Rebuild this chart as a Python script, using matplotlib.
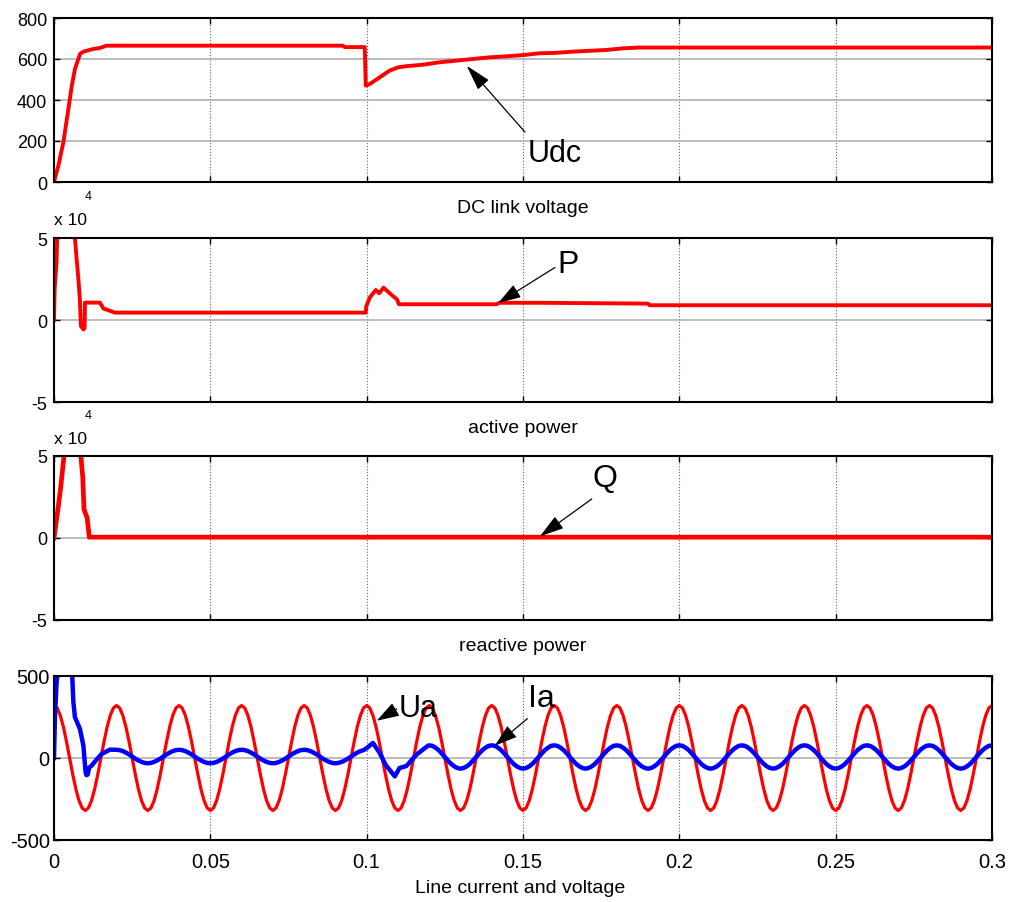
import numpy as np
import matplotlib
matplotlib.use('Agg')
import matplotlib.pyplot as plt

plt.rcParams['font.family'] = ['Liberation Sans', 'DejaVu Sans']
plt.rcParams['axes.unicode_minus'] = False

# DC link voltage (V)
udc_t = [0, 0.0014, 0.003, 0.0046, 0.0057, 0.0067, 0.0083, 0.0094, 0.0126, 0.0147,
         0.0168, 0.0924, 0.093, 0.0994, 0.0997, 0.101, 0.1042, 0.1073, 0.11, 0.1127,
         0.118, 0.1233, 0.1287, 0.134, 0.1393, 0.1446, 0.15, 0.1553, 0.1606, 0.166,
         0.1713, 0.1766, 0.182, 0.1872, 0.2, 0.25, 0.3]
udc_v = [0, 80, 194, 356, 470, 551, 624, 636, 649, 654,
         665, 665, 658, 658, 470, 478, 511, 543, 559, 565,
         572, 584, 592, 600, 608, 613, 619, 628, 630, 636,
         640, 644, 652, 656, 656, 656, 656]

# active power (x 10^4)
p_t = [0, 0.0002, 0.0008, 0.0012, 0.006, 0.0067, 0.0072, 0.0078, 0.0083, 0.0086,
       0.0094, 0.0098, 0.0099, 0.0147, 0.0158, 0.0173, 0.0195, 0.0997, 0.0999, 0.101,
       0.1029, 0.104, 0.1054, 0.1068, 0.1084, 0.1097, 0.1103, 0.1414, 0.1425, 0.155,
       0.19, 0.1905, 0.3]
p_v = [0, 1.9, 3.5, 6.5, 7.0, 5.0, 3.8, 2.5, 1.16, -0.37,
       -0.57, -0.5, 1.06, 1.06, 0.7, 0.6, 0.45, 0.45, 0.85, 1.37,
       1.83, 1.63, 1.97, 1.73, 1.46, 1.26, 0.96, 0.96, 1.05, 1.05,
       1.0, 0.9, 0.9]

# reactive power (x 10^4)
q_t = [0, 0.0014, 0.0022, 0.0032, 0.006, 0.0086, 0.0092, 0.0096, 0.0106, 0.0113, 0.3]
q_v = [0, 1.95, 3.18, 5.0, 7.0, 5.0, 3.7, 1.75, 1.23, 0.05, 0.05]

# line voltage Ua: one 20 ms cycle sampled every 1 ms, 15 cycles shown
ua_cycle = [320, 305, 260, 190, 100, 0, -100, -190, -260, -305,
            -320, -305, -260, -190, -100, 0, 100, 190, 260, 305]
n_ua_cycles = 15

# line current Ia: start-up transient, steady part, load step transient, steady part
ia_start_t = [0, 0.0003, 0.0008, 0.0013, 0.0057, 0.0062, 0.0067, 0.0083, 0.0094, 0.0101,
              0.0104, 0.0108, 0.0112, 0.012, 0.0136, 0.0152, 0.0179]
ia_start_v = [0, 250, 450, 560, 560, 340, 248, 177, 75, -86,
              -105, -100, -60, -47, -10, 24, 51]
ia_cycle1 = [50, 48, 42, 33, 22, 9, -4, -15, -24, -30,
             -32, -30, -24, -15, -4, 9, 22, 33, 42, 48]
n_ia_cycles1 = 4      # 0.02 .. 0.1 s
ia_mid_t = [0.1, 0.102, 0.1042, 0.106, 0.109, 0.1105, 0.1127, 0.1159, 0.1196]
ia_mid_v = [60, 92, 30, -40, -112, -61, -49, 20, 75]
ia_cycle2 = [77, 74, 63, 48, 28, 6, -16, -36, -51, -61,
             -65, -61, -51, -36, -16, 6, 28, 48, 63, 74]
n_ia_cycles2 = 9      # 0.12 .. 0.3 s

dt = 0.001
ua_t = np.arange(len(ua_cycle) * n_ua_cycles + 1) * dt
ua_v = np.append(np.tile(ua_cycle, n_ua_cycles), ua_cycle[0])

t1 = 0.02 + np.arange(len(ia_cycle1) * n_ia_cycles1) * dt
t2 = 0.12 + np.arange(len(ia_cycle2) * n_ia_cycles2 + 1) * dt
ia_t = np.concatenate([ia_start_t, t1, ia_mid_t, t2])
ia_v = np.concatenate([ia_start_v, np.tile(ia_cycle1, n_ia_cycles1), ia_mid_v,
                       np.append(np.tile(ia_cycle2, n_ia_cycles2), ia_cycle2[0])])

x_ticks = [0, 0.05, 0.1, 0.15, 0.2, 0.25, 0.3]
x_labels = ['0', '0.05', '0.1', '0.15', '0.2', '0.25', '0.3']

W, H = 1014, 903
fig = plt.figure(figsize=(W / 100, H / 100), dpi=100)


def make_axes(top, bottom, left=54, right=992):
    ax = fig.add_axes([left / W, 1 - bottom / H, (right - left) / W, (bottom - top) / H])
    ax.set_xlim(0, 0.3)
    ax.set_xticks(x_ticks)
    ax.xaxis.grid(True, linestyle=':', color='#666666', lw=0.8)
    ax.yaxis.grid(True, linestyle='-', color='#b0b0b0', lw=1.2)
    ax.set_axisbelow(True)
    ax.tick_params(direction='in', top=True, right=True, length=4, width=1, pad=5, labelsize=13)
    for s in ax.spines.values():
        s.set_linewidth(1.5)
    return ax


def arrow(ax, tip, tail, hl=1.6, hw=0.45):
    ax.annotate('', xy=tip, xytext=tail,
                arrowprops=dict(arrowstyle=f'-|>,head_length={hl},head_width={hw}',
                                color='black', lw=0.9, shrinkA=0, shrinkB=0))


def fig_text(x, y, s, **kw):
    fig.text(x / W, 1 - y / H, s, va='baseline', **kw)


# DC link voltage
ax1 = make_axes(19, 183)
ax1.plot(udc_t, udc_v, color='red', lw=2.8)
ax1.set_ylim(0, 800)
ax1.set_yticks([0, 200, 400, 600, 800])
ax1.set_xticklabels([])
arrow(ax1, (0.132, 567), (0.1506, 244))
ax1.text(0.1516, 104, 'Udc', fontsize=22, va='baseline')
fig_text(523, 213, 'DC link voltage', fontsize=14, ha='center')

# active power
ax2 = make_axes(239, 403)
ax2.plot(p_t, p_v, color='red', lw=2.8)
ax2.set_ylim(-5, 5)
ax2.set_yticks([-5, 0, 5])
ax2.set_xticklabels([])
arrow(ax2, (0.1421, 1.04), (0.1602, 3.2), hl=1.4, hw=0.45)
ax2.text(0.1609, 2.93, 'P', fontsize=23, va='baseline')
fig_text(54, 225, 'x 10', fontsize=12.5)
fig_text(85, 200, '4', fontsize=9)
fig_text(523, 433, 'active power', fontsize=14, ha='center')

# reactive power
ax3 = make_axes(457, 621)
ax3.plot(q_t, q_v, color='red', lw=3.4)
ax3.set_ylim(-5, 5)
ax3.set_yticks([-5, 0, 5])
ax3.set_xticklabels([])
arrow(ax3, (0.1554, 0.1), (0.172, 2.38), hl=1.5, hw=0.45)
ax3.text(0.1721, 3.15, 'Q', fontsize=23, va='baseline')
fig_text(54, 444, 'x 10', fontsize=12.5)
fig_text(85, 419, '4', fontsize=9)
fig_text(523, 651, 'reactive power', fontsize=14, ha='center')

# line current and voltage
ax4 = make_axes(677, 841)
ax4.plot(ua_t, ua_v, color='red', lw=2.3)
ax4.plot(ia_t, ia_v, color='blue', lw=3.2)
ax4.set_ylim(-500, 500)
ax4.set_yticks([-500, 0, 500])
ax4.set_xticklabels(x_labels)
ax4.tick_params(axis='both', labelsize=14.5)
ax4.tick_params(axis='x', pad=9)
ax4.tick_params(axis='y', pad=3)
arrow(ax4, (0.1032, 227), (0.1096, 299), hl=1.4, hw=0.45)
ax4.text(0.1103, 256, 'Ua', fontsize=22, va='baseline')
arrow(ax4, (0.141, 75), (0.1514, 240), hl=1.4, hw=0.45)
ax4.text(0.1516, 317, 'Ia', fontsize=23, va='baseline')
fig_text(520, 893, 'Line current and voltage', fontsize=14, ha='center')

plt.savefig('out.png', dpi=100)
plt.close()
